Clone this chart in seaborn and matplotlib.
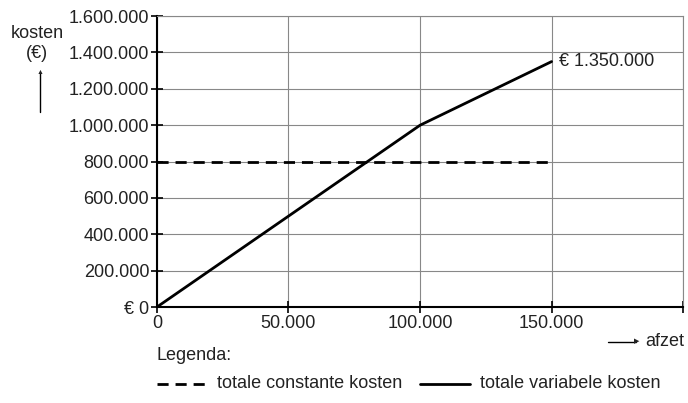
import numpy as np
import pandas as pd
import seaborn as sns
import matplotlib.pyplot as plt
from matplotlib.ticker import FuncFormatter

afzet_var = [0, 100000, 150000]
kosten_var = [0, 1000000, 1350000]
afzet_const = [0, 150000]
kosten_const = [800000, 800000]
x_ticks = [0, 50000, 100000, 150000, 200000]
y_ticks = [0, 200000, 400000, 600000, 800000, 1000000, 1200000, 1400000, 1600000]

sns.set_style("white")
plt.rcParams['font.family'] = ['Liberation Sans', 'DejaVu Sans']
plt.rcParams['font.size'] = 13
plt.rcParams['text.color'] = '#222222'

fig = plt.figure(figsize=(6.88, 4.03), dpi=100)
ax = fig.add_axes([0.228, 0.238, 0.765, 0.722])

var = pd.DataFrame({"afzet": afzet_var, "kosten": kosten_var})
const = pd.DataFrame({"afzet": afzet_const, "kosten": kosten_const})
sns.lineplot(data=var, x="afzet", y="kosten", color="black", lw=2, ax=ax)
sns.lineplot(data=const, x="afzet", y="kosten", color="black", lw=2, ls=(0, (4, 2.5)), ax=ax)

ax.set_xlim(0, 200000)
ax.set_ylim(0, 1600000)
ax.set_xticks(x_ticks)
ax.set_yticks(y_ticks)


def nl(v):
    return f"{int(v):,}".replace(",", ".")


ax.xaxis.set_major_formatter(FuncFormatter(lambda v, p: "" if v == 200000 else nl(v)))
ax.yaxis.set_major_formatter(FuncFormatter(lambda v, p: "€ 0" if v == 0 else nl(v)))
ax.tick_params(bottom=True, left=True, direction="inout", length=9, width=1.2,
               color="black", labelcolor="#222222", labelsize=13, pad=1)
ax.grid(True, color="#888888", lw=0.8)
ax.set_xlabel("")
ax.set_ylabel("")
for s in ["left", "bottom"]:
    ax.spines[s].set_color("black")
    ax.spines[s].set_linewidth(1.5)
for s in ["top", "right"]:
    ax.spines[s].set_color("#888888")
    ax.spines[s].set_linewidth(0.8)

ax.text(afzet_var[-1] + 3000, kosten_var[-1], "€ " + nl(kosten_var[-1]),
        va="center", ha="left", fontsize=13)

# y-as label met pijl
fig.text(37 / 688, 1 - 34 / 403, "kosten", ha="center", va="center", fontsize=13)
fig.text(37 / 688, 1 - 53 / 403, "(€)", ha="center", va="center", fontsize=13)
fig.add_artist(plt.Line2D([40 / 688, 40 / 688], [1 - 112 / 403, 1 - 72 / 403], color="black", lw=1))
fig.text(40 / 688, 1 - 72 / 403, "▲", ha="center", va="center", fontsize=5)

# x-as label met pijl
fig.add_artist(plt.Line2D([608 / 688, 636 / 688], [1 - 342 / 403, 1 - 342 / 403], color="black", lw=1))
fig.text(637 / 688, 1 - 342 / 403, "▶", ha="center", va="center", fontsize=5)
fig.text(684 / 688, 1 - 342 / 403, "afzet", ha="right", va="center", fontsize=13)

# legenda
fig.text(157 / 688, 1 - 356 / 403, "Legenda:", ha="left", va="center", fontsize=13)
fig.add_artist(plt.Line2D([157 / 688, 207 / 688], [1 - 384 / 403, 1 - 384 / 403],
                          color="black", lw=2, ls=(0, (4, 2.5))))
fig.text(217 / 688, 1 - 384 / 403, "totale constante kosten", ha="left", va="center", fontsize=13)
fig.add_artist(plt.Line2D([420 / 688, 470 / 688], [1 - 384 / 403, 1 - 384 / 403], color="black", lw=2))
fig.text(480 / 688, 1 - 384 / 403, "totale variabele kosten", ha="left", va="center", fontsize=13)

fig.savefig("out.png", dpi=100)
